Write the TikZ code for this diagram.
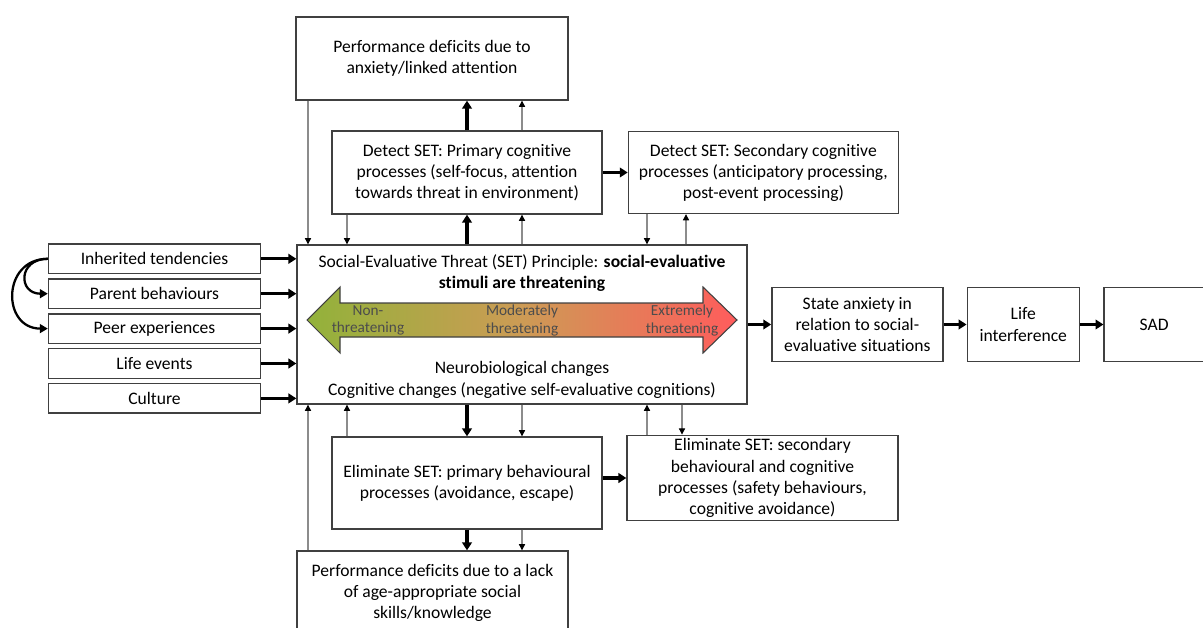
\documentclass[tikz,border=0pt]{standalone}
\usepackage{fontspec}
\setmainfont{Carlito}[Ligatures=NoCommon]
\usepackage{xcolor}
\usepackage{tikz}
\usetikzlibrary{positioning,arrows.meta}
\definecolor{boxgray}{RGB}{64,64,64}
\definecolor{lowgreen}{RGB}{146,178,58}
\definecolor{midamber}{RGB}{205,155,85}
\definecolor{highred}{RGB}{255,92,92}

\begin{document}
\begin{tikzpicture}[x=0.02cm,y=-0.02cm,>=Stealth,node distance=0.08cm,
  box/.style={draw=boxgray,line width=0.8pt,align=center,inner sep=2pt,font=\fontsize{10}{12}\selectfont},
  side/.style={box,minimum width=4.24cm,minimum height=0.59cm},
  level/.style={align=center,text=black!70,font=\fontsize{8.7}{9.7}\selectfont},
  big/.style={-{Triangle[length=4.5pt,width=5.5pt]},line width=1.8pt},
  small/.style={-{Triangle[length=3.5pt,width=3.5pt,color=black]},draw=black!45,line width=0.6pt},
  curv/.style={-{Triangle[length=4.5pt,width=5pt]},line width=1.3pt}]
  \useasboundingbox (0,0) rectangle (1203,628);
  \clip (0,0) rectangle (1203,628);

  % left column
  \node[side] (inh) at (154.5,258.8) {Inherited tendencies};
  \node[side,below=of inh] (par) {Parent behaviours};
  \node[side,below=of par] (peer) {Peer experiences};
  \node[side,below=of peer] (life) {Life events};
  \node[side,below=of life] (cult) {Culture};

  % SET principle
  \node[box,minimum width=9cm,minimum height=3.18cm] (set) at (522,324.5) {};
  \node[anchor=north,align=center,font=\fontsize{10}{11.5}\selectfont] (settop) at ([yshift=-0.09cm]set.north)
    {Social-Evaluative Threat (SET) Principle: \textbf{social-evaluative}\\\textbf{stimuli are threatening}};
  \node[anchor=south,align=center,font=\fontsize{10}{12.5}\selectfont] (setbot) at (set.south)
    {Neurobiological changes\\Cognitive changes (negative self-evaluative cognitions)};
  \path[draw=boxgray,line width=0.6pt,left color=lowgreen,right color=highred,middle color=midamber]
    (307,320) -- (340,287) -- (340,303) -- (703,303) -- (703,287) -- (737,320)
    -- (703,353) -- (703,337) -- (340,337) -- (340,353) -- cycle;
  \node[level] (non) at (368,320.5) {Non-\\threatening};
  \node[level] (mod) at (522,320.5) {Moderately\\threatening};
  \node[level] (ext) at (682,320.5) {Extremely\\threatening};

  % detect / eliminate
  \node[box,minimum width=5.44cm,minimum height=1.66cm] (perfA) at (432,58.5)
    {Performance deficits due to\\anxiety/linked attention};
  \node[box,minimum width=5.4cm,minimum height=1.66cm] (detA) at (467,172.5)
    {Detect SET: Primary cognitive\\processes (self-focus, attention\\towards threat in environment)};
  \node[box,minimum width=5.4cm,minimum height=1.64cm,right=0.5cm of detA] (detB)
    {Detect SET: Secondary cognitive\\processes (anticipatory processing,\\post-event processing)};
  \node[box,minimum width=5.4cm,minimum height=1.84cm] (elimA) at (467,483)
    {Eliminate SET: primary behavioural\\processes (avoidance, escape)};
  \node[box,minimum width=5.42cm,minimum height=1.64cm] (elimB) at (762.5,478)
    {Eliminate SET: secondary\\behavioural and cognitive\\processes (safety behaviours,\\cognitive avoidance)};
  \node[box,minimum width=5.42cm,minimum height=1.68cm] (perfB) at (432.5,593)
    {Performance deficits due to a lack\\of age-appropriate social\\skills/knowledge};

  % outcomes
  \node[box,minimum width=3.42cm,minimum height=1.48cm,right=0.47cm of set] (state)
    {State anxiety in\\relation to social-\\evaluative situations};
  \node[box,minimum width=2.24cm,minimum height=1.48cm,right=0.46cm of state] (intf) {Life\\interference};
  \node[box,minimum width=2cm,minimum height=1.48cm,right=0.47cm of intf] (sad) {SAD};

  \coordinate (c1) at (308,0);
  \coordinate (c2) at (347,0);
  \coordinate (c3) at (467,0);
  \coordinate (c4) at (522,0);
  \coordinate (c5) at (647,0);
  \coordinate (c6) at (686,0);
  \coordinate (c7) at (682,0);

  \foreach \n in {inh,par,peer,life,cult}
    \draw[big] (\n.east) -- (\n.east -| set.west);
  \draw[curv] (inh.west) to[out=180,in=180,looseness=2.2] (par.west);
  \draw[curv] (inh.west) to[out=180,in=180,looseness=1.7] (peer.west);

  \draw[big] (c3 |- set.north) -- (c3 |- detA.south);
  \draw[big] (c3 |- detA.north) -- (c3 |- perfA.south);
  \draw[big] (detA.east) -- (detA.east -| detB.west);
  \draw[small] (c1 |- perfA.south) -- (c1 |- set.north);
  \draw[small] (c2 |- detA.south) -- (c2 |- set.north);
  \draw[small] (c4 |- set.north) -- (c4 |- detA.south);
  \draw[small] (c4 |- detA.north) -- (c4 |- perfA.south);
  \draw[small] (c5 |- detB.south) -- (c5 |- set.north);
  \draw[small] (c6 |- set.north) -- (c6 |- detB.south);

  \draw[big] (c3 |- set.south) -- (c3 |- elimA.north);
  \draw[big] (c3 |- elimA.south) -- (c3 |- perfB.north);
  \draw[big] (elimA.east |- elimB.west) -- (elimB.west);
  \draw[small] (c4 |- set.south) -- (c4 |- elimA.north);
  \draw[small] (c4 |- elimA.south) -- (c4 |- perfB.north);
  \draw[small] (c2 |- elimA.north) -- (c2 |- set.south);
  \draw[small] (c1 |- perfB.north) -- (c1 |- set.south);
  \draw[small] (c5 |- elimB.north) -- (c5 |- set.south);
  \draw[small] (c7 |- set.south) -- (c7 |- elimB.north);

  \draw[big] (set.east) -- (state.west);
  \draw[big] (state) -- (intf);
  \draw[big] (intf) -- (sad);
\end{tikzpicture}
\end{document}
